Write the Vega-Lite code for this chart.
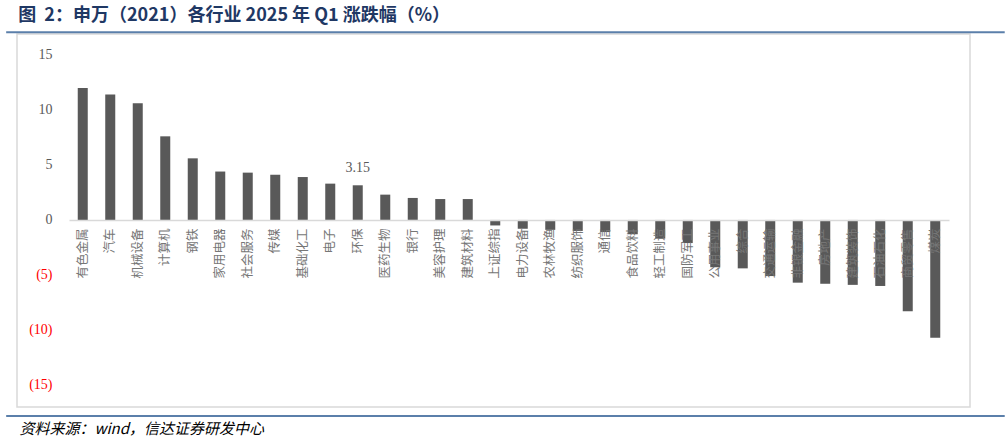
{
  "$schema": "https://vega.github.io/schema/vega-lite/v6.json",
  "padding": {"left": 4, "top": 6, "right": 0, "bottom": 0},
  "background": "white",
  "title": {
    "text": "资料来源：wind，信达证券研发中心",
    "orient": "bottom",
    "anchor": "start",
    "font": "Noto Sans CJK SC",
    "fontStyle": "italic",
    "fontWeight": "normal",
    "fontSize": 15,
    "color": "#000000",
    "offset": 4,
    "dx": 15
  },
  "config": {
    "view": {"stroke": "#d9d9d9", "strokeWidth": 1.5},
    "concat": {"spacing": 0}
  },
  "vconcat": [
    {
      "title": {
        "text": "图\u00a0\u00a02：申万（2021）各行业 2025 年 Q1 涨跌幅（%）",
        "anchor": "start",
        "font": "Noto Sans CJK SC",
        "fontWeight": "bold",
        "fontSize": 18,
        "color": "#1f3864",
        "offset": 6,
        "dx": 13
      },
      "width": 953,
      "height": 373,
      "data": {
        "values": [
          {"industry": "有色金属", "change": 12.0},
          {"industry": "汽车", "change": 11.4},
          {"industry": "机械设备", "change": 10.6},
          {"industry": "计算机", "change": 7.6},
          {"industry": "钢铁", "change": 5.6},
          {"industry": "家用电器", "change": 4.4},
          {"industry": "社会服务", "change": 4.3},
          {"industry": "传媒", "change": 4.1},
          {"industry": "基础化工", "change": 3.9},
          {"industry": "电子", "change": 3.3},
          {"industry": "环保", "change": 3.15},
          {"industry": "医药生物", "change": 2.3},
          {"industry": "银行", "change": 2.0},
          {"industry": "美容护理", "change": 1.9},
          {"industry": "建筑材料", "change": 1.9},
          {"industry": "上证综指", "change": -0.5},
          {"industry": "电力设备", "change": -0.8},
          {"industry": "农林牧渔", "change": -0.9},
          {"industry": "纺织服饰", "change": -1.0},
          {"industry": "通信", "change": -1.1},
          {"industry": "食品饮料", "change": -1.3},
          {"industry": "轻工制造", "change": -1.7},
          {"industry": "国防军工", "change": -2.1},
          {"industry": "公用事业", "change": -4.3},
          {"industry": "综合", "change": -4.4},
          {"industry": "交通运输", "change": -5.1},
          {"industry": "非银金融", "change": -5.7},
          {"industry": "房地产", "change": -5.8},
          {"industry": "建筑装饰", "change": -5.9},
          {"industry": "石油石化", "change": -6.0},
          {"industry": "商贸零售", "change": -8.3},
          {"industry": "煤炭", "change": -10.7}
        ]
      },
      "encoding": {
        "x": {
          "field": "industry",
          "type": "nominal",
          "sort": null,
          "title": null,
          "scale": {"range": [52, 932], "paddingInner": 0.636, "paddingOuter": 0.318},
          "axis": {
            "orient": "bottom",
            "offset": -187,
            "labelAngle": -90,
            "labelFont": "Noto Sans CJK SC",
            "labelFontSize": 12.5,
            "labelColor": "#767676",
            "labelPadding": 8,
            "labelOverlap": false,
            "labelLimit": 0,
            "ticks": false,
            "domainColor": "#d9d9d9",
            "domainWidth": 1.5,
            "zindex": 1
          }
        },
        "y": {
          "field": "change",
          "type": "quantitative",
          "title": null,
          "scale": {"domain": [-17, 16.9], "nice": false, "zero": false},
          "axis": {
            "values": [-15, -10, -5, 0, 5, 10, 15],
            "labelExpr": "datum.value < 0 ? '(' + abs(datum.value) + ')' : datum.value + '\u00a0'",
            "labelFont": "Liberation Serif",
            "labelFontSize": 14,
            "labelColor": {"condition": {"test": "datum.value < 0", "value": "#ff0000"}, "value": "#595959"},
            "labelPadding": 2,
            "offset": -37,
            "domain": false,
            "ticks": false,
            "tickSize": 0,
            "grid": false
          }
        }
      },
      "layer": [
        {
          "mark": {"type": "bar", "color": "#595959"}
        },
        {
          "transform": [{"filter": "datum.industry == '环保'"}],
          "mark": {
            "type": "text",
            "font": "Liberation Serif",
            "fontSize": 14,
            "color": "#595959",
            "baseline": "alphabetic",
            "dy": -13
          },
          "encoding": {"text": {"field": "change", "type": "quantitative"}}
        },
        {
          "data": {"values": [{"level": 17.06}, {"level": -17.82}]},
          "mark": {"type": "rule", "color": "#5b7faa", "strokeWidth": 2},
          "encoding": {
            "y": {"field": "level", "type": "quantitative"},
            "x": {"datum": "有色金属", "bandPosition": -7.15},
            "x2": {"datum": "煤炭", "bandPosition": 7.44}
          }
        }
      ]
    }
  ]
}
